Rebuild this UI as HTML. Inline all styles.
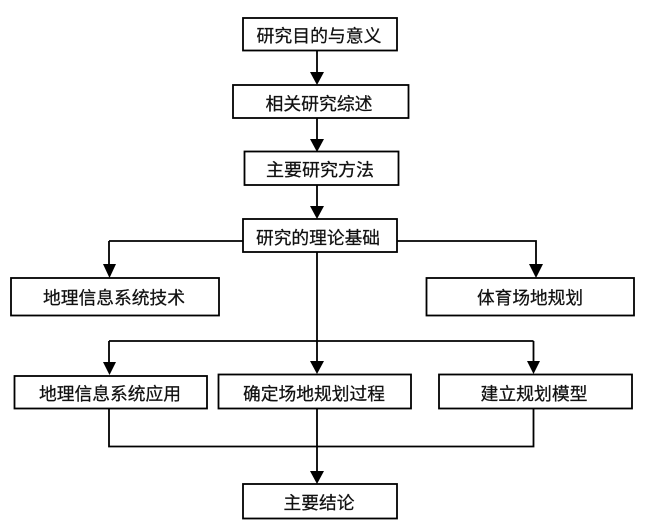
<!DOCTYPE html>
<html><head><meta charset="utf-8">
<style>
html,body{margin:0;padding:0;background:#fff;width:650px;height:530px;overflow:hidden}
svg{display:block;filter:blur(0.35px)}
text{font-family:"Liberation Sans","WenQuanYi Zen Hei","Noto Sans CJK SC",sans-serif;font-size:17.5px;fill:#111;stroke:#111;stroke-width:0.25px;text-anchor:middle}
rect{fill:#fff;stroke:#000;stroke-width:1.8}
path.l{fill:none;stroke:#000;stroke-width:1.8}
polygon{fill:#000}
</style></head><body>
<svg width="650" height="530" viewBox="0 0 650 530" xmlns="http://www.w3.org/2000/svg">
<path class="l" d="M317 50V75M317 118V142M317 185V210M317 252V365M109 241H243M397 241H536V268M109 241V268M109 341H533.5M109 341V366M533.5 341V366M109 408V446.5H533.5V408M317 408V474"/>
<polygon points="310,72 324,72 317,85"/>
<polygon points="310,139 324,139 317,152"/>
<polygon points="310,206 324,206 317,219"/>
<polygon points="103,264 116,264 109.500,278"/>
<polygon points="529,264 543,264 536,278"/>
<polygon points="103,362 116,362 109.500,375"/>
<polygon points="310,361 324,361 317,374"/>
<polygon points="527,361 540,361 533.500,374"/>
<polygon points="310,471 324,471 317,484"/>
<rect x="243" y="18" width="154" height="32.500"/>
<rect x="233" y="85" width="175.500" height="33"/>
<rect x="244.500" y="151.500" width="154" height="33.500"/>
<rect x="243" y="219" width="154" height="33"/>
<rect x="11" y="278" width="208" height="37.500"/>
<rect x="426.500" y="278" width="207.500" height="37.500"/>
<rect x="14.500" y="376" width="192.500" height="32.500"/>
<rect x="218.500" y="374.500" width="192.500" height="34"/>
<rect x="439" y="374.500" width="193" height="34"/>
<rect x="243" y="484" width="154" height="34.500"/>
<text x="319" y="42" textLength="125" lengthAdjust="spacingAndGlyphs">研究目的与意义</text>
<text x="319" y="110" textLength="107" lengthAdjust="spacingAndGlyphs">相关研究综述</text>
<text x="320" y="176" textLength="108" lengthAdjust="spacingAndGlyphs">主要研究方法</text>
<text x="318" y="244" textLength="124" lengthAdjust="spacingAndGlyphs">研究的理论基础</text>
<text x="114" y="304" textLength="142" lengthAdjust="spacingAndGlyphs">地理信息系统技术</text>
<text x="530" y="304" textLength="106" lengthAdjust="spacingAndGlyphs">体育场地规划</text>
<text x="110" y="400" textLength="142" lengthAdjust="spacingAndGlyphs">地理信息系统应用</text>
<text x="314" y="400" textLength="142" lengthAdjust="spacingAndGlyphs">确定场地规划过程</text>
<text x="534" y="400" textLength="107" lengthAdjust="spacingAndGlyphs">建立规划模型</text>
<text x="319" y="509" textLength="71" lengthAdjust="spacingAndGlyphs">主要结论</text>
</svg>
</body></html>
